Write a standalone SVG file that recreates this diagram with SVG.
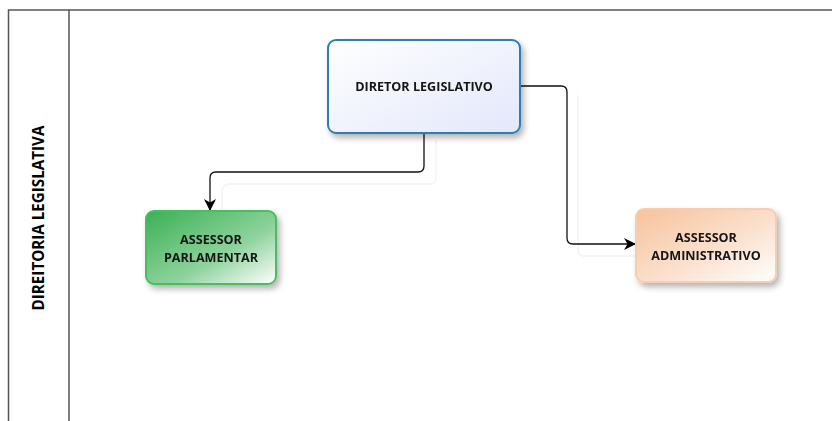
<svg xmlns="http://www.w3.org/2000/svg" width="832" height="421" viewBox="0 0 832 421">
<style>
  .lbl{font-family:"Open Sans","Noto Sans","DejaVu Sans",sans-serif;font-weight:bold;font-size:12.6px;fill:#141414;text-anchor:middle}
  .lane{font-family:"Open Sans","Noto Sans","DejaVu Sans",sans-serif;font-weight:bold;font-size:15.2px;fill:#000;text-anchor:middle}
  .edge{fill:none;stroke:#111;stroke-width:1.3}
  .ghost{fill:none;stroke:#f4f4f4;stroke-width:1.5}
  .frame{fill:none;stroke:#555;stroke-width:1.5}
</style>
<defs>
  <linearGradient id="gBlue" x1="0" y1="0" x2="1" y2="1">
    <stop offset="0" stop-color="#ffffff"/>
    <stop offset="1" stop-color="#e3e7fb"/>
  </linearGradient>
  <linearGradient id="gGreen" x1="0" y1="0" x2="1" y2="1">
    <stop offset="0" stop-color="#3bb055"/>
    <stop offset="0.6" stop-color="#8fd39d"/>
    <stop offset="1" stop-color="#ffffff"/>
  </linearGradient>
  <linearGradient id="gOrange" x1="0" y1="0" x2="1" y2="1">
    <stop offset="0" stop-color="#f7c29c"/>
    <stop offset="0.6" stop-color="#fbe3d2"/>
    <stop offset="1" stop-color="#ffffff"/>
  </linearGradient>
  <filter id="sh" x="-20%" y="-20%" width="150%" height="150%">
    <feGaussianBlur in="SourceAlpha" stdDeviation="3"/>
    <feOffset dx="3" dy="4" result="b"/>
    <feComponentTransfer><feFuncA type="linear" slope="0.3"/></feComponentTransfer>
    <feMerge><feMergeNode/><feMergeNode in="SourceGraphic"/></feMerge>
  </filter>
  <marker id="arr" viewBox="0 0 12 12" refX="12" refY="6" markerWidth="12" markerHeight="12" markerUnits="userSpaceOnUse" orient="auto">
    <path d="M0,0 L12,6 L0,12 L3.5,6 Z" fill="#000"/>
  </marker>
</defs>
<rect width="832" height="421" fill="#fff"/>
<g id="lane">
  <path class="frame" d="M8.5,421 V10 H832"/>
  <path class="frame" d="M69,10 V421"/>
  <text class="lane" transform="translate(44,218) rotate(-90)">DIREITORIA LEGISLATIVA</text>
</g>
<g id="connectors">
  <path class="ghost" d="M436,140 V178 Q436,184 430,184 H230 Q222,184 222,192 V215"/>
  <path class="ghost" d="M578,95 V250 Q578,256 584,256 H640"/>
  <path class="edge" d="M424,133 V166 Q424,172 418,172 H216 Q210,172 210,178 V211" marker-end="url(#arr)"/>
  <path class="edge" d="M520,86 H561 Q567,86 567,92 V238 Q567,244 573,244 H636" marker-end="url(#arr)"/>
</g>
<g id="diretor" filter="url(#sh)">
  <rect x="328" y="40" width="192" height="93" rx="8" fill="url(#gBlue)" stroke="#2e7db3" stroke-width="2"/>
  <text class="lbl" x="424" y="91">DIRETOR LEGISLATIVO</text>
</g>
<g id="parlamentar" filter="url(#sh)">
  <rect x="146" y="211" width="130" height="73" rx="8" fill="url(#gGreen)" stroke="#44bf5e" stroke-width="2"/>
  <text class="lbl" x="211" y="244">ASSESSOR</text>
  <text class="lbl" x="211" y="262">PARLAMENTAR</text>
</g>
<g id="administrativo" filter="url(#sh)">
  <rect x="636" y="209" width="140" height="73" rx="8" fill="url(#gOrange)" stroke="#f6cdb0" stroke-width="2"/>
  <text class="lbl" x="706" y="242">ASSESSOR</text>
  <text class="lbl" x="706" y="260">ADMINISTRATIVO</text>
</g>
</svg>
